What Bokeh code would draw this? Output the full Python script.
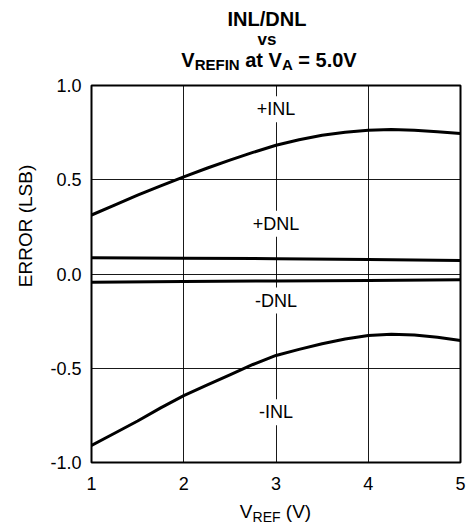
from bokeh.plotting import figure
from bokeh.models import Label, FixedTicker, Range1d, Div
from bokeh.layouts import column, row
from bokeh.embed import file_html
from bokeh.resources import INLINE

# ---------------- data ----------------
vref = [1.0, 1.25, 1.5, 1.75, 2.0, 2.25, 2.5, 2.75, 3.0, 3.25, 3.5, 3.75, 4.0, 4.25, 4.5, 4.75, 5.0]
pos_inl = [0.313, 0.366, 0.418, 0.468, 0.515, 0.561, 0.604, 0.645, 0.683, 0.712, 0.736, 0.752,
           0.763, 0.767, 0.763, 0.755, 0.745]
neg_inl = [-0.91, -0.845, -0.78, -0.71, -0.645, -0.59, -0.535, -0.48, -0.432, -0.40, -0.37, -0.345,
           -0.326, -0.32, -0.323, -0.335, -0.353]
dnl_x = [1, 2, 3, 4, 5]
pos_dnl = [0.086, 0.084, 0.081, 0.077, 0.072]
neg_dnl = [-0.0435, -0.040, -0.037, -0.034, -0.031]

x_ticks = [1, 2, 3, 4, 5]
y_ticks = [-1.0, -0.5, 0.0, 0.5, 1.0]
y_tick_labels = ["-1.0", "-0.5", "0.0", "0.5", "1.0"]

curve_labels = ["+INL", "+DNL", "-DNL", "-INL"]
curve_label_x = [3, 3, 3, 3]
curve_label_y = [0.874, 0.266, -0.141, -0.733]

FONT = "Liberation Sans"
CSS_FONT = "'Liberation Sans', Arial, sans-serif"
ASC, CONTENT = 0.905, 1.117   # Liberation Sans ascent / content height (em)

# ---------------- layout sizes ----------------
TOTAL_W, TOTAL_H = 472, 531
TITLE_H = 74
YLAB_W = 40
BL, BR, BT, BB = 51, 12, 11, 40
FW, FH = 369, 377
PW = BL + FW + BR
PH = BT + FH + BB
XLAB_H = TOTAL_H - TITLE_H - PH

p = figure(width=PW, height=PH, output_backend="svg", toolbar_location=None,
           x_range=Range1d(1, 5), y_range=Range1d(-1, 1),
           min_border_left=BL, min_border_right=BR, min_border_top=BT, min_border_bottom=BB)
p.background_fill_color = "white"
p.border_fill_color = "white"
p.outline_line_color = "black"
p.outline_line_width = 2

p.xaxis.ticker = FixedTicker(ticks=x_ticks)
p.yaxis.ticker = FixedTicker(ticks=y_ticks)
p.yaxis.major_label_overrides = {t: l for t, l in zip(y_ticks, y_tick_labels)}
for ax in (p.xaxis, p.yaxis):
    ax.axis_line_color = None
    ax.major_tick_line_color = None
    ax.minor_tick_line_color = None
    ax.major_tick_in = 0
    ax.major_tick_out = 0
    ax.major_label_text_font = FONT
    ax.major_label_text_font_size = "18px"
    ax.major_label_text_color = "black"
p.xaxis.major_label_standoff = 14
p.yaxis.major_label_standoff = 10

for g in (p.xgrid, p.ygrid):
    g.grid_line_color = "black"
    g.grid_line_width = 1
    g.grid_line_alpha = 0.9

for xs, ys in ((vref, pos_inl), (vref, neg_inl), (dnl_x, pos_dnl), (dnl_x, neg_dnl)):
    p.line(xs, ys, line_color="black", line_width=3, line_join="round", line_cap="round")

for t, lx, ly in zip(curve_labels, curve_label_x, curve_label_y):
    p.add_layout(Label(x=lx, y=ly, text=t, text_font=FONT, text_font_size="18px",
                       text_align="center", text_baseline="middle", text_color="black",
                       background_fill_color="white", padding=3))


def sub(s, size, drop=3):
    return f'<span style="font-size:{size}px;position:relative;top:{drop}px;">{s}</span>'


def line_div(html, size, baseline, center_x, bold=False, width=TOTAL_W):
    lh = size * CONTENT
    top = baseline - ASC * size
    weight = "bold" if bold else "normal"
    return (f'<div style="position:absolute;left:{center_x - width / 2:.1f}px;top:{top:.1f}px;'
            f'width:{width}px;text-align:center;font-family:{CSS_FONT};font-weight:{weight};'
            f'font-size:{size}px;line-height:{lh:.2f}px;color:black;white-space:nowrap;">{html}</div>')


# ---------------- title (3 lines, with subscripts) ----------------
TCX = 267
title_html = (
    f'<div style="position:relative;width:{TOTAL_W}px;height:{TITLE_H}px;overflow:hidden;">'
    + line_div("INL/DNL", 20, 25.8, TCX, bold=True)
    + line_div("vs", 17, 45.5, TCX, bold=True)
    + line_div(f'V{sub("REFIN", 15)} at V{sub("A", 15)} = 5.0V', 20, 67.3, TCX + 2, bold=True)
    + '</div>'
)
title_div = Div(text=title_html, width=TOTAL_W, height=TITLE_H, margin=0)

# ---------------- y axis label ----------------
ylab_html = (
    f'<div style="position:relative;width:{YLAB_W}px;height:{PH}px;overflow:hidden;">'
    f'<div style="position:absolute;left:25px;top:{226 - TITLE_H}px;'
    f'transform:translate(-50%,-50%) rotate(-90deg);'
    f'font-family:{CSS_FONT};font-size:19px;line-height:21px;color:black;white-space:nowrap;">'
    f'ERROR (LSB)</div></div>'
)
ylab_div = Div(text=ylab_html, width=YLAB_W, height=PH, margin=0)

# ---------------- x axis label ----------------
XL_BASE = 518.5 - (TITLE_H + PH)
xlab_html = (
    f'<div style="position:relative;width:{TOTAL_W}px;height:{XLAB_H}px;overflow:hidden;">'
    + line_div(f'V{sub("REF", 14, 4)} (V)', 19, XL_BASE, YLAB_W + BL + FW / 2)
    + '</div>'
)
xlab_div = Div(text=xlab_html, width=TOTAL_W, height=XLAB_H, margin=0)

layout = column(title_div, row(ylab_div, p, spacing=0), xlab_div, spacing=0)

open("out.html", "w").write(file_html(layout, INLINE))
